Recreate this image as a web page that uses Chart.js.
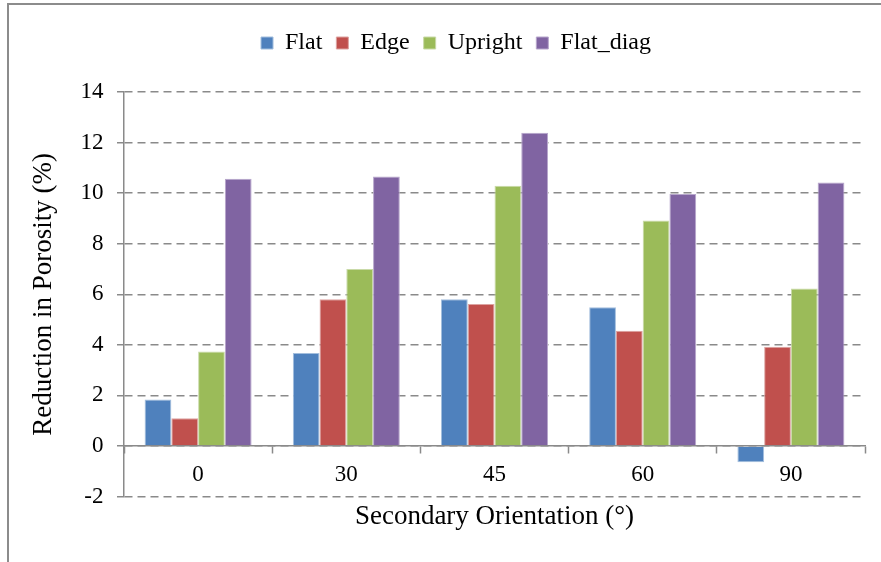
<!DOCTYPE html>
<html><head><meta charset="utf-8">
<script src="https://cdn.jsdelivr.net/npm/chart.js@4"></script>
<style>
html,body{margin:0;padding:0;background:#fff;overflow:hidden;}
#wrap{position:relative;width:881px;height:562px;overflow:hidden;}
#frame{position:absolute;left:7px;top:3px;width:1000px;height:1000px;border-left:2px solid #8c8c8c;border-top:2px solid #8c8c8c;}
canvas{position:absolute;left:0;top:0;}
</style></head><body>
<div id="wrap"><div id="frame"></div><canvas id="c" width="881" height="562"></canvas></div>
<script>
const categories = ['0', '30', '45', '60', '90'];
const seriesNames = ['Flat', 'Edge', 'Upright', 'Flat_diag'];
const flat = [1.84, 3.68, 5.80, 5.49, -0.64];
const edge = [1.10, 5.80, 5.62, 4.56, 3.93];
const upright = [3.74, 7.00, 10.29, 8.92, 6.23];
const flatDiag = [10.57, 10.66, 12.39, 9.97, 10.42];
const yTickMin = -2, yTickMax = 14, yTickStep = 2;

const fills = ['#4F81BD', '#C0504D', '#9BBB59', '#8064A2'];
const edges = ['#A3BEDD', '#DDA3A1', '#C9DAA8', '#B7A6CC'];
const GRID = '#8a8a8a';

Chart.defaults.font.family = "'Liberation Serif', 'Times New Roman', serif";
Chart.defaults.color = '#000';

const layoutAdjust = {
  id: 'layoutAdjust',
  beforeLayout(chart) {
    const lg = chart.legend;
    if (lg && !lg._patched) {
      const fit = lg.fit.bind(lg);
      lg.fit = function () { fit(); this.height += 27; };
      lg._patched = true;
    }
  },
  afterLayout(chart) {
    const lg = chart.legend;
    if (lg) { lg.left += 18.5; lg.right += 18.5; }
    const t = chart.titleBlock;
    const ca = chart.chartArea;
    if (t && ca) {
      const dx = (ca.left + ca.right) / 2 - (t.left + t.right) / 2;
      t.left += dx; t.right += dx;
    }
  }
};

const allData = [flat, edge, upright, flatDiag];
new Chart(document.getElementById('c'), {
  type: 'bar',
  data: {
    labels: categories,
    datasets: seriesNames.map((n, i) => ({
      label: n, data: allData[i], backgroundColor: fills[i], borderColor: edges[i], borderWidth: 1
    }))
  },
  options: {
    responsive: false, animation: false, devicePixelRatio: 1,
    layout: { padding: { left: 10, right: 16, top: 17, bottom: 24 } },
    datasets: { bar: { categoryPercentage: 0.722, barPercentage: 1 } },
    plugins: {
      legend: { position: 'top', labels: { font: { size: 24 }, color: '#000', boxWidth: 12, boxHeight: 12, padding: 14 } },
      title: { display: true, position: 'bottom', text: 'Secondary Orientation (°)', color: '#000',
               font: { size: 27, weight: 'normal' }, padding: { top: 4, bottom: 5 } },
      tooltip: { enabled: false }
    },
    scales: {
      x: {
        position: { y: 0 },
        grid: { drawOnChartArea: false, drawTicks: true, tickLength: 7, tickColor: GRID, tickWidth: 1.5, offset: true },
        border: { color: GRID, width: 1.5 },
        ticks: { font: { size: 23 }, color: '#000', padding: 8 }
      },
      y: {
        min: yTickMin, max: yTickMax,
        ticks: { stepSize: yTickStep, font: { size: 23 }, color: '#000', padding: 13.5 },
        grid: { color: GRID, lineWidth: 1.5, tickLength: 7, tickColor: GRID, tickWidth: 1.5, tickBorderDash: [] },
        border: { color: GRID, width: 1.5, dash: [8, 5] },
        title: { display: true, text: 'Reduction in Porosity (%)', color: '#000', font: { size: 27 }, padding: { top: 17.8, bottom: 6.8 } }
      }
    }
  },
  plugins: [layoutAdjust]
});
</script>
</body></html>
